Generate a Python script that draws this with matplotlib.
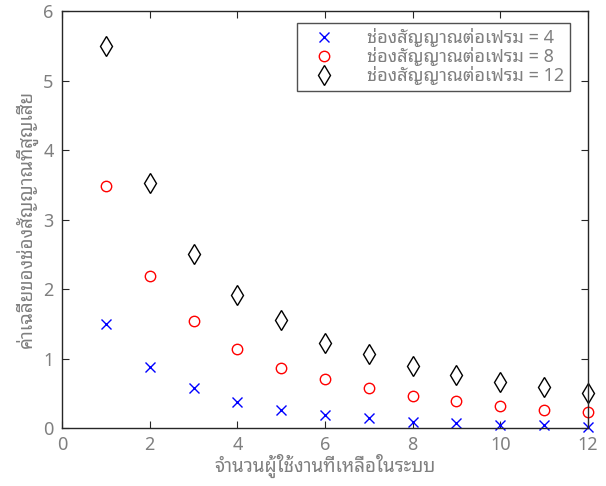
import matplotlib
matplotlib.use("Agg")
import matplotlib.pyplot as plt
import numpy as np

plt.rcParams['font.family'] = ['Noto Sans Thai Looped', 'Noto Sans', 'DejaVu Sans']
plt.rcParams['font.weight'] = 'light'

users_left = np.arange(1, 13)
loss_4 = [1.49, 0.88, 0.57, 0.37, 0.26, 0.18, 0.14, 0.09, 0.07, 0.05, 0.04, 0.02]
loss_8 = [3.48, 2.19, 1.54, 1.13, 0.87, 0.70, 0.57, 0.46, 0.39, 0.32, 0.26, 0.23]
loss_12 = [5.50, 3.52, 2.50, 1.92, 1.55, 1.23, 1.06, 0.89, 0.76, 0.66, 0.59, 0.50]

series_labels = ['ช่องสัญญาณต่อเฟรม = 4', 'ช่องสัญญาณต่อเฟรม = 8', 'ช่องสัญญาณต่อเฟรม = 12']
x_ticks = [0, 2, 4, 6, 8, 10, 12]
y_ticks = [0, 1, 2, 3, 4, 5, 6]
x_label = 'จำนวนผู้ใช้งานที่เหลือในระบบ'
y_label = 'ค่าเฉลี่ยของช่องสัญญาณที่สูญเสีย'

text_gray = '#7f7f7f'
spine_col = '#262626'

fig = plt.figure(figsize=(6.06, 4.86), dpi=100)
ax = fig.add_axes([62 / 606, 58 / 486, 526 / 606, 417 / 486])

ax.plot(users_left, loss_4, linestyle='none', marker='x', color='#0000ff',
        markersize=6.5, markeredgewidth=1.0, clip_on=False, label=series_labels[0])
ax.plot(users_left, loss_8, linestyle='none', marker='o', color='#ff0000',
        markerfacecolor='none', markersize=7.5, markeredgewidth=1.0, clip_on=False,
        label=series_labels[1])
ax.plot(users_left, loss_12, linestyle='none', marker='d', color='#000000',
        markerfacecolor='none', markersize=10, markeredgewidth=1.0, clip_on=False,
        label=series_labels[2])

ax.set_xlim(0, 12)
ax.set_ylim(0, 6)
ax.set_xticks(x_ticks)
ax.set_yticks(y_ticks)
ax.tick_params(direction='in', top=True, right=True, length=5, width=0.8,
               color=spine_col, labelcolor=text_gray, labelsize=13, pad=6)
for s in ax.spines.values():
    s.set_color(spine_col)
    s.set_linewidth(1.0)

ax.set_xlabel(x_label, color=text_gray, fontsize=13.5, labelpad=0)
ax.set_ylabel(y_label, color=text_gray, fontsize=13.5, labelpad=4)

leg = ax.legend(loc='upper right', bbox_to_anchor=(0.965, 0.972), fontsize=13,
                frameon=True, fancybox=False, edgecolor=spine_col,
                handlelength=2.4, handletextpad=1.2, borderpad=0.3,
                labelspacing=0.0, borderaxespad=0)
leg.get_frame().set_linewidth(1.0)
for t in leg.get_texts():
    t.set_color(text_gray)

fig.savefig('out.png', dpi=100)
